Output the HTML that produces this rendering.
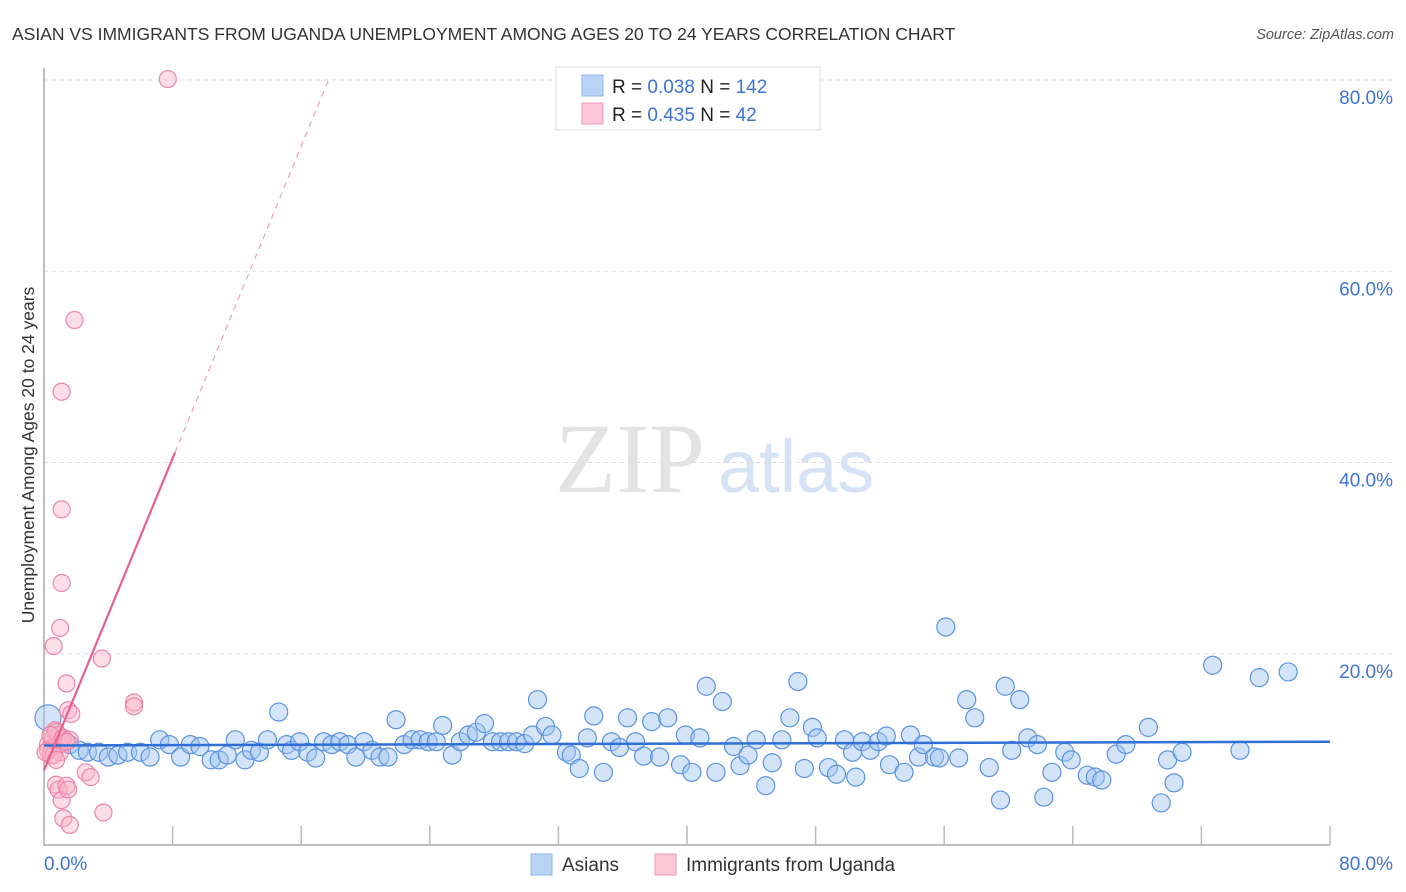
<!DOCTYPE html>
<html><head><meta charset="utf-8">
<style>
body{margin:0;background:#fff;font-family:"Liberation Sans",sans-serif;}
#wrap{position:relative;width:1406px;height:892px;overflow:hidden;}
svg{position:absolute;left:0;top:0;}
</style></head>
<body>
<div id="wrap">
<svg id="chart" width="1406" height="892">
  <text x="12" y="40" font-size="17.5" fill="#333">ASIAN VS IMMIGRANTS FROM UGANDA UNEMPLOYMENT AMONG AGES 20 TO 24 YEARS CORRELATION CHART</text>
  <text x="1394" y="39" font-size="14.5" fill="#555" font-style="italic" text-anchor="end">Source: ZipAtlas.com</text>
  <text x="555" y="492" font-size="100" fill="#e3e3e3" font-family="Liberation Serif, serif">ZIP</text>
  <text x="718" y="492" font-size="74" fill="#d6e3f6">atlas</text>
  <g id="grid"></g>
  <g id="axes"></g>
  <g id="pts"></g>
  <g id="trend"></g>
  <text transform="translate(34,455) rotate(-90)" font-size="17.5" fill="#333" text-anchor="middle">Unemployment Among Ages 20 to 24 years</text>
  <g>
    <rect x="556" y="67" width="264" height="63" fill="#fff" stroke="#ddd"/>
    <rect x="582" y="75" width="21" height="21" fill="#b9d3f5" stroke="#8fb4ea"/>
    <rect x="582" y="103" width="21" height="21" fill="#fcc7d6" stroke="#f09ab4"/>
    <text x="612" y="93" font-size="19" fill="#222">R = <tspan fill="#3d74d4">0.038</tspan>   N = <tspan fill="#3d74d4">142</tspan></text>
    <text x="612" y="121" font-size="19" fill="#222">R = <tspan fill="#3d74d4">0.435</tspan>   N = <tspan fill="#3d74d4"> 42</tspan></text>
  </g>
  <g>
    <rect x="531" y="854" width="21" height="21" fill="#b9d3f5" stroke="#8fb4ea"/>
    <text x="562" y="871" font-size="19" fill="#333">Asians</text>
    <rect x="655" y="854" width="21" height="21" fill="#fcc7d6" stroke="#f09ab4"/>
    <text x="686" y="871" font-size="19" fill="#333">Immigrants from Uganda</text>
  </g>
</svg>
</div>
<script>
const yTicks=[20,40,60,80];
const yTickLabels=["20.0%","40.0%","60.0%","80.0%"];
const xTickValues=[0,8,16,24,32,40,48,56,64,72,80];
const asianX=[0.25,1.0,1.6,2.2,2.7,3.4,4.0,4.6,5.2,6.0,6.6,7.2,7.8,8.5,9.1,9.7,10.4,10.9,11.4,11.9,12.5,12.9,13.4,13.9,14.6,15.1,15.4,15.9,16.4,16.9,17.4,17.9,18.4,18.9,19.4,19.9,20.4,20.9,21.4,21.9,22.4,22.9,23.4,23.9,24.4,24.8,25.4,25.9,26.4,26.9,27.4,27.9,28.4,28.9,29.4,29.9,30.4,30.7,31.2,31.6,32.5,32.8,33.3,33.8,34.2,34.8,35.3,35.8,36.3,36.8,37.3,37.8,38.3,38.8,39.6,39.9,40.3,40.8,41.2,41.8,42.2,42.9,43.3,43.8,44.3,44.9,45.3,45.9,46.4,46.9,47.3,47.8,48.1,48.8,49.3,49.8,50.3,50.5,50.9,51.4,51.9,52.4,52.6,53.5,53.9,54.4,54.7,55.4,55.7,56.1,56.9,57.4,57.9,58.8,59.5,59.8,60.2,60.7,61.2,61.8,62.2,62.7,63.5,63.9,64.9,65.4,65.8,66.7,67.3,68.7,69.5,69.9,70.3,70.8,72.7,74.4,75.6,77.4];
const asianY=[13.3,11.0,10.5,9.9,9.7,9.7,9.2,9.4,9.7,9.7,9.2,11.0,10.5,9.2,10.5,10.3,8.9,8.9,9.4,11.0,8.9,9.9,9.7,11.0,13.9,10.5,9.9,10.8,9.7,9.1,10.8,10.5,10.8,10.5,9.2,10.8,9.9,9.2,9.2,13.1,10.5,11.0,11.0,10.8,10.8,12.5,9.4,10.8,11.5,11.8,12.7,10.8,10.8,10.8,10.8,10.6,11.5,15.2,12.4,11.5,9.7,9.4,8.0,11.2,13.5,7.6,10.8,10.2,13.3,10.8,9.3,12.9,9.2,13.3,8.4,11.5,7.6,11.2,16.6,7.6,15.0,10.3,8.3,9.4,11.0,6.2,8.6,11.0,13.3,17.1,8.0,12.3,11.2,8.1,7.4,11.0,9.7,7.1,10.8,9.9,10.8,11.4,8.4,7.6,11.5,9.2,10.5,9.2,9.1,22.8,9.1,15.2,13.3,8.1,4.7,16.6,9.9,15.2,11.2,10.5,5.0,7.6,9.7,8.9,7.3,7.1,6.8,9.5,10.5,12.3,4.4,8.9,6.5,9.7,18.8,9.9,17.5,18.1];
const ugX=[0.25,0.4,0.5,0.7,0.9,1.0,0.6,1.0,1.1,1.1,1.1,1.9,7.7,1.4,1.5,1.7,1.1,0.9,0.5,0.75,0.9,1.1,1.2,1.6,1.4,1.5,2.6,2.9,3.7,3.6,5.6,5.6,0.75,0.25,0.4,1.2,1.6,1.0,0.6,0.1,0.75,1.4];
const ugY=[10.5,9.4,11.0,12.0,11.5,10.5,20.8,22.7,27.4,35.1,47.4,54.9,80.1,16.9,14.1,13.7,11.0,10.5,10.2,6.3,5.8,4.7,2.8,2.1,6.2,5.8,7.6,7.1,3.4,19.5,14.9,14.5,11.8,9.9,11.5,11.2,11.0,9.7,9.4,9.7,8.9,10.8];
const asianTrend=[10.4,10.8];
const ugTrend=[7.8,4.08];

const NS="http://www.w3.org/2000/svg";
const X0=44,X1=1330,Y0=845,Y80=80;
const sx=v=>X0+(X1-X0)*v/80;
const sy=v=>Y0-(Y0-Y80)*v/80;
function mk(tag,attrs,parent){const e=document.createElementNS(NS,tag);for(const k in attrs)e.setAttribute(k,attrs[k]);parent.appendChild(e);return e;}
const grid=document.getElementById('grid'),axes=document.getElementById('axes'),pts=document.getElementById('pts'),trend=document.getElementById('trend');
yTicks.forEach((t,i)=>{
  const l=mk('line',{x1:X0,x2:1393,y1:sy(t),y2:sy(t),stroke:'#ddd','stroke-dasharray':'4,4'},grid);
  
  
  const tx=mk('text',{x:1393,y:sy(t)+24,'text-anchor':'end','font-size':19,fill:'#3d74d4'},grid);
  tx.textContent=yTickLabels[i];
  
  
});
const ax=mk('path',{d:`M${X0},68 V${Y0} H${X1}`,stroke:'#aaa',fill:'none','stroke-width':1.5},axes);


xTickValues.forEach(t=>{if(t===0)return;const l=mk('line',{x1:sx(t),x2:sx(t),y1:Y0,y2:Y0-19,stroke:'#bbb','stroke-width':1.5},axes);
  
  });
const xl0=mk('text',{x:44,y:870,'font-size':19,fill:'#3d74d4'},axes);xl0.textContent='0.0%';


const xl1=mk('text',{x:1393,y:870,'font-size':19,fill:'#3d74d4','text-anchor':'end'},axes);xl1.textContent='80.0%';


asianX.forEach((x,i)=>{const c=mk('circle',{cx:sx(x),cy:sy(asianY[i]),r:i===0?13:9,fill:'rgba(160,196,240,0.45)',stroke:'#5b93e0','stroke-width':1.2},pts);
  
  });
ugX.forEach((x,i)=>{const c=mk('circle',{cx:sx(x),cy:sy(ugY[i]),r:8.5,fill:'rgba(250,180,200,0.45)',stroke:'#ec85a6','stroke-width':1.2},pts);
  
  });
const at=mk('line',{x1:sx(0),y1:sy(asianTrend[0]),x2:sx(80),y2:sy(asianTrend[1]),stroke:'#2f6fd6','stroke-width':2.5},trend);


const xs=8.15,xe=(80-ugTrend[0])/ugTrend[1];
const u1=mk('line',{x1:sx(0),y1:sy(ugTrend[0]),x2:sx(xs),y2:sy(ugTrend[0]+ugTrend[1]*xs),stroke:'#e5608f','stroke-width':2.2},trend);


const u2=mk('line',{x1:sx(xs),y1:sy(ugTrend[0]+ugTrend[1]*xs),x2:sx(xe),y2:sy(80),stroke:'#eea0b9','stroke-width':1.2,'stroke-dasharray':'6,5'},trend);


</script>
</body></html>
